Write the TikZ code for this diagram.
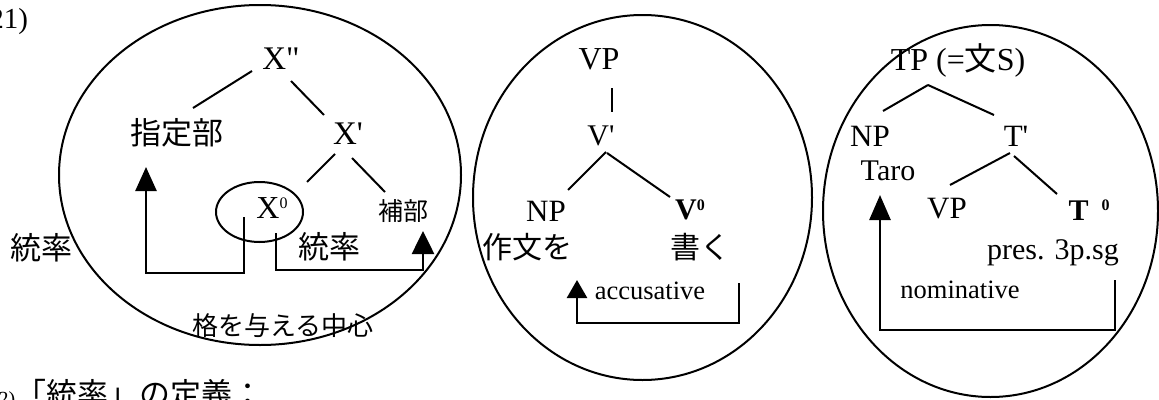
\documentclass[tikz,border=0pt]{standalone}
\usepackage{fontspec}
\setmainfont{Liberation Serif}[Ligatures=TeXOff]
\newfontfamily\jp{Noto Sans CJK JP}
\usetikzlibrary{arrows.meta,calc,shapes.geometric}
\newcommand\fs[1]{\fontsize{#1}{#1}\selectfont}
% small raised zero: #1 = size, #2 = raise
\newcommand\supz[2]{\raisebox{#2pt}{\fs{#1}0}}
\begin{document}
\begin{tikzpicture}[x=1pt,y=-1pt,
  lbl/.style={inner sep=0pt, outer sep=0pt},
  cat/.style={lbl, font=\fs{32}},
  catsm/.style={lbl, font=\fs{31}},
  jpl/.style={lbl, font=\jp\fs{31}},
  casel/.style={lbl, font=\fs{26.5}},
  branch/.style={line width=2pt},
  ring/.style={line width=2pt},
  govarr/.style={line width=2.6pt, -{Triangle[length=24pt,width=21pt]}}]
\useasboundingbox (0,0) rectangle (1159,399);
\clip (0,0) rectangle (1159,399);

% example number and following heading
\node[lbl, font=\fs{29}, anchor=east] (num) at (28,22) {(21)};
\node[lbl, anchor=base west] (defn) at (-8,405)
  {{\fs{20}(2)}{\jp\fs{31}「統率」の定義：}};

% ---------- general X-bar schema ----------
\draw[ring] (260,175) ellipse [x radius=201, y radius=170];
\node[cat, font=\fs{33}] (Xpp) at (281,59) {X"};
\node[jpl] (Spec) at (177,133) {指定部};
\node[cat, font=\fs{33}] (Xp) at (348,134) {X'};
\node[lbl, font=\fs{32}] (X0) at (272,208) {X\supz{16}{10.5}};
\node[lbl, font=\jp\fs{25}] (Comp) at (403,211) {補部};
\node[draw, ellipse, ring, minimum width=87pt, minimum height=60pt, inner sep=0pt]
  (head) at (259.5,212) {};
\node[jpl] (GovL) at (41,248) {統率};
\node[jpl] (GovR) at (329,247) {統率};
\node[lbl, font=\jp\fs{26}] (Center) at (283,326) {格を与える中心};

\draw[branch] ($(Xpp)+(-29,12)$) -- ($(Spec)+(16,-25)$);
\draw[branch] ($(Xpp)+(10,22)$) -- ($(Xp)+(-24,-19)$);
\draw[branch] ($(Xp)+(-13,20)$) -- ($(X0)+(35,-26)$);
\draw[branch] ($(Xp)+(4,24)$) -- ($(Comp)+(-18,-19)$);

\coordinate (g1s) at (244,217);
\coordinate (g1e) at (146,167);
\draw[govarr] (g1s) -- ++(0,56) -| (g1e);
\coordinate (g2s) at (276,233);
\coordinate (g2e) at (423,231);
\draw[govarr, -{Triangle[length=23pt,width=22pt]}] (g2s) -- ++(0,37) -| (g2e);

% ---------- VP: accusative ----------
\draw[ring] (642.5,197.5) ellipse [x radius=169.5, y radius=182.5];
\node[cat] (VP) at (599,59) {VP};
\node[catsm, font=\fs{30}] (Vb) at (601,136) {V'};
\node[catsm] (NPa) at (546,211) {NP};
\node[lbl, font=\fs{30}\bfseries] (V0) at (690,210) {V\supz{16}{9.5}};
\node[lbl, font=\jp\fs{30}] (Obj) at (527,247) {作文を};
\node[lbl, font=\jp\fs{30}] (Kaku) at (700,247) {書く};
\node[casel] (Acc) at (650,291) {accusative};

\draw[line width=1.2pt] ($(VP)+(13,29)$) -- ($(Vb)+(11,-24)$);
\draw[branch] ($(Vb)+(5,16)$) -- ($(NPa)+(22,-21)$);
\draw[branch] ($(Vb)+(6,17)$) -- ($(V0)+(-20,-13)$);

\coordinate (a1s) at (739,283);
\coordinate (a1e) at (577,280);
\draw[govarr, -{Triangle[length=18pt,width=20pt]}] (a1s) -- ++(0,40) -| (a1e);

% ---------- TP: nominative ----------
\draw[ring] (990.5,211) ellipse [x radius=167.5, y radius=186];
\node[lbl, font=\fs{32}] (TP) at (958,60) {TP (={\jp 文}S)};
\node[catsm] (NPb) at (870,136) {NP};
\node[catsm] (Tb) at (1016,136) {T'};
\node[lbl, font=\fs{30}] (Taro) at (888,171) {Taro};
\node[catsm] (VPb) at (947,209) {VP};
\node[lbl, font=\fs{30}\bfseries] (T0) at (1089,210) {T\hspace{13pt}\supz{16}{9.5}};
\node[lbl, font=\fs{30}] (Pres) at (1053,253) {pres. 3p.sg};
\node[casel] (Nom) at (960,290) {nominative};

\draw[branch] ($(TP)+(-30,25)$) -- ($(NPb)+(13,-25)$);
\draw[branch] ($(TP)+(-30,25)$) -- ($(Tb)+(-22,-21)$);
\draw[branch] ($(Tb)+(-6,17)$) -- ($(VPb)+(3,-24)$);
\draw[branch] ($(Tb)+(-2,20)$) -- ($(T0)+(-32,-16)$);

\coordinate (n1s) at (1115,280);
\coordinate (n1e) at (880,195);
\draw[govarr, -{Triangle[length=25pt,width=21pt]}] (n1s) -- ++(0,50) -| (n1e);
\end{tikzpicture}
\end{document}
